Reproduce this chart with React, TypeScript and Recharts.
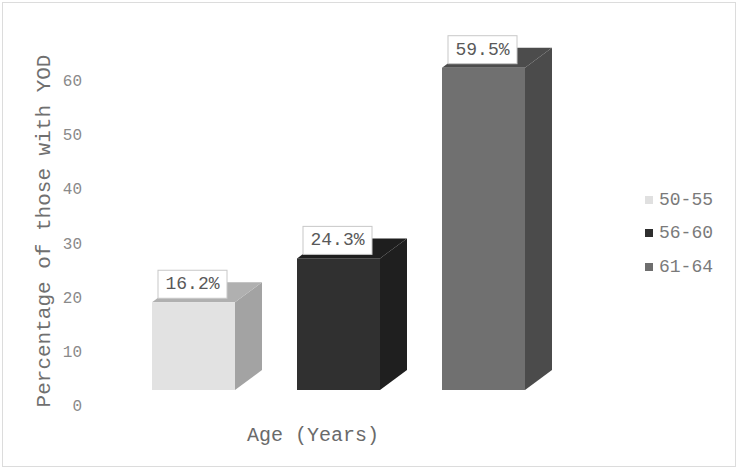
import React from 'react';
import { BarChart, Bar, XAxis, YAxis, Legend, LabelList } from 'recharts';

const category = ['Age (Years)'];
const seriesNames = ['50-55', '56-60', '61-64'];
const seriesValues = [16.2, 24.3, 59.5];
const yTicks = [0, 10, 20, 30, 40, 50, 60];
const yTitle = 'Percentage of those with YOD';

const FONT = '"Liberation Mono", "DejaVu Sans Mono", monospace';

// front / top / side shades for each age group
const SHADES = [
  { front: '#e2e2e2', top: '#b0b0b0', side: '#a3a3a3', key: '#e0e0e0' },
  { front: '#303030', top: '#1e1e1e', side: '#1f1f1f', key: '#2e2e2e' },
  { front: '#707070', top: '#4c4c4c', side: '#4b4b4b', key: '#6e6e6e' },
];

const data = category.map((name) => {
  const row: Record<string, string | number> = { name };
  seriesNames.forEach((s, i) => {
    row[s] = seriesValues[i];
  });
  return row;
});

const LIFT = 17; // floor sits above the tick baseline
const DX = 27; // depth of the 3d box
const DY = 20;

const Box3D = ({ x, y, width, height, shade }: any) => {
  if (!height) return null;
  const top = y - LIFT;
  const bottom = y + height - LIFT;
  const right = x + width;
  return (
    <g>
      <polygon
        points={`${right},${top} ${right + DX},${top - DY} ${right + DX},${bottom - DY} ${right},${bottom}`}
        fill={shade.side}
      />
      <polygon
        points={`${x},${top} ${x + DX},${top - DY} ${right + DX},${top - DY} ${right},${top}`}
        fill={shade.top}
      />
      <rect x={x} y={top} width={width} height={height} fill={shade.front} />
    </g>
  );
};

const ValueBox = ({ x, y, value }: any) => {
  const bx = x + 6;
  const by = y - LIFT - 4 - 28;
  return (
    <g>
      <rect x={bx} y={by} width={69} height={28} fill="#ffffff" stroke="#c8c8c8" strokeWidth={1} />
      <text x={bx + 34.5} y={by + 14} textAnchor="middle" dominantBaseline="central" fontFamily={FONT} fontSize={18} fill="#595959">
        {`${Number(value).toFixed(1)}%`}
      </text>
    </g>
  );
};

const YTick = ({ y, payload }: any) => (
  <text x={82} y={y} textAnchor="end" dominantBaseline="central" fontFamily={FONT} fontSize={16} fill="#8a8a8a">
    {payload.value}
  </text>
);

const XTick = ({ y, payload }: any) => (
  <text x={313} y={y + 20} textAnchor="middle" dominantBaseline="central" fontFamily={FONT} fontSize={20} fill="#6a6a6a">
    {payload.value}
  </text>
);

const YTitle = () => (
  <text
    x={44}
    y={231}
    transform="rotate(-90 44 231)"
    textAnchor="middle"
    dominantBaseline="central"
    fontFamily={FONT}
    fontSize={21}
    fill="#707070"
  >
    {yTitle}
  </text>
);

const LegendBox = ({ payload }: any) => (
  <div style={{ fontFamily: FONT }}>
    {(payload || []).map((entry: any, i: number) => (
      <div key={entry.value} style={{ display: 'flex', alignItems: 'center', height: 33.5 }}>
        <span style={{ width: 8, height: 8, background: SHADES[i].key, display: 'inline-block', marginRight: 6 }} />
        <span style={{ fontSize: 18, color: '#7a7a7a' }}>{entry.value}</span>
      </div>
    ))}
  </div>
);

export default function App() {
  return (
    <div style={{ position: 'absolute', left: 0, top: 0, width: 736, height: 469, background: '#fff' }}>
      <div style={{ position: 'absolute', left: 2, top: 2, width: 732, height: 463, border: '1px solid #dcdcdc' }} />
      <BarChart
        width={736}
        height={469}
        data={data}
        margin={{ top: 82, right: 90, bottom: 32, left: 0 }}
        barGap={62}
        barCategoryGap={0}
        style={{ position: 'absolute', left: 0, top: 0 }}
      >
        <XAxis dataKey="name" height={30} axisLine={false} tickLine={false} tick={<XTick />} />
        <YAxis
          width={121}
          domain={[0, 60]}
          ticks={yTicks}
          axisLine={false}
          tickLine={false}
          tick={<YTick />}
          label={<YTitle />}
        />
        <Legend
          layout="vertical"
          align="right"
          verticalAlign="top"
          content={<LegendBox />}
          wrapperStyle={{ left: 645, top: 183, width: 90 }}
        />
        {seriesNames.map((s, i) => (
          <Bar
            key={s}
            dataKey={s}
            name={s}
            barSize={83}
            fill={SHADES[i].key}
            isAnimationActive={false}
            shape={(p: any) => <Box3D {...p} shade={SHADES[i]} />}
          >
            <LabelList dataKey={s} content={<ValueBox />} />
          </Bar>
        ))}
      </BarChart>
    </div>
  );
}
